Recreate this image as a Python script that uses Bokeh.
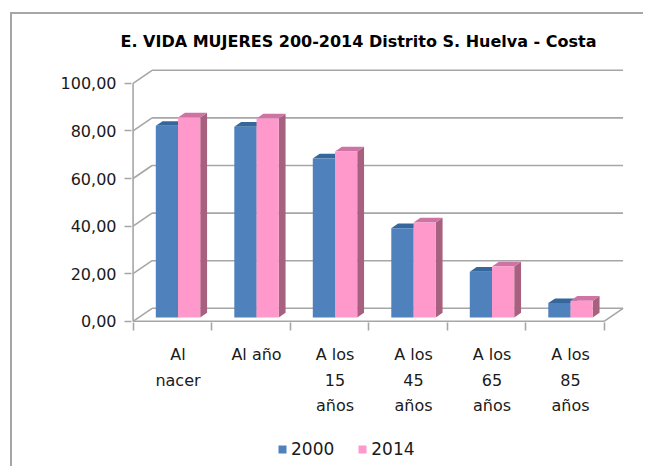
from bokeh.plotting import figure
from bokeh.models import FixedTicker, Legend, LegendItem, ColumnDataSource
from bokeh.embed import file_html
from bokeh.resources import INLINE

# ---------------- data ----------------
categories = ["Al\nnacer", "Al año", "A los\n15\naños", "A los\n45\naños",
              "A los\n65\naños", "A los\n85\naños"]
v2000 = [80.5, 80.1, 66.8, 37.5, 19.2, 6.0]
v2014 = [84.0, 83.6, 69.7, 39.9, 21.4, 7.0]
series_names = ["2000", "2014"]
y_ticks = [0, 20, 40, 60, 80, 100]
y_tick_labels = ["0,00", "20,00", "40,00", "60,00", "80,00", "100,00"]
title_text = "E. VIDA MUJERES  200-2014 Distrito S. Huelva - Costa"

# ---------------- style ----------------
FONT = "DejaVu Sans"
GRID = "#a6a6a6"
front_cols = ["#4f81bd", "#ff99cc"]
top_cols = ["#35669c", "#cf73a5"]
side_cols = ["#3a5f8f", "#a8607f"]
DX, DY = 0.242, 5.46          # depth of the 3D walls (x in category units, y in value units)
BAR_W = 0.283                 # width of one bar in category units
BAR_POS = 0.30                # depth fraction of bar front faces
BAR_D = 0.36                  # bar depth fraction
n = len(categories)

# the frame reaches down to the legend; the category axis is pinned at the floor
p = figure(frame_width=495, frame_height=398, x_range=(-0.02, 6.286), y_range=(-60.17, 107.06),
           output_backend="svg", toolbar_location=None,
           min_border_left=119, min_border_right=17, min_border_top=51, min_border_bottom=2,
           margin=(12, 0, 0, 10),
           styles={"border-top": "2px solid #a6a6a6", "border-left": "2px solid #a6a6a6"})
p.outline_line_color = None
p.xgrid.visible = False
p.ygrid.visible = False
p.background_fill_color = "white"
p.border_fill_color = "white"

# title
p.title.text = title_text
p.title.align = "left"
p.title.text_font = FONT
p.title.text_font_size = "16px"
p.title.text_font_style = "bold"
p.title.text_color = "#000000"
p.title.standoff = 31
p.title.offset = -11

# ---------------- walls ----------------
p.multi_line(xs=[[DX, n + DX] for t in y_ticks], ys=[[t + DY, t + DY] for t in y_ticks],
             line_color=GRID, line_width=1.6)
p.multi_line(xs=[[0, DX] for t in y_ticks], ys=[[t, t + DY] for t in y_ticks],
             line_color=GRID, line_width=1.6)
p.multi_line(xs=[[0, n], [n, n + DX], [0, 0]], ys=[[0, 0], [0, DY], [0, y_ticks[-1]]],
             line_color=GRID, line_width=1.6)

# ---------------- bars ----------------
fronts = []
for s, vals in enumerate([v2000, v2014]):
    lefts = [i + 0.5 - BAR_W + s * BAR_W + BAR_POS * DX for i in range(n)]
    rights = [l + BAR_W for l in lefts]
    base = BAR_POS * DY
    tops = [base + v for v in vals]
    bdx, bdy = BAR_D * DX, BAR_D * DY
    side_xs = [[r, r + bdx, r + bdx, r] for r in rights]
    side_ys = [[base, base + bdy, t + bdy, t] for t in tops]
    top_xs = [[l, r, r + bdx, l + bdx] for l, r in zip(lefts, rights)]
    top_ys = [[t, t, t + bdy, t + bdy] for t in tops]
    p.patches(xs=side_xs, ys=side_ys, fill_color=side_cols[s], line_color=None)
    p.patches(xs=top_xs, ys=top_ys, fill_color=top_cols[s], line_color=None)
    src = ColumnDataSource(dict(left=lefts, right=rights, bottom=[base] * n, top=tops))
    fr = p.quad(left="left", right="right", bottom="bottom", top="top", source=src,
                fill_color=front_cols[s], line_color=None)
    fronts.append(fr)

# ---------------- axes ----------------
yax = p.yaxis[0]
yax.ticker = FixedTicker(ticks=y_ticks, minor_ticks=[])
yax.major_label_overrides = {t: lab for t, lab in zip(y_ticks, y_tick_labels)}
yax.axis_line_color = None
yax.major_tick_out = 7
yax.major_tick_in = 0
yax.major_tick_line_color = GRID
yax.major_tick_line_width = 1.6
yax.major_label_standoff = 8
yax.major_label_text_font = FONT
yax.major_label_text_font_size = "16px"
yax.major_label_text_color = "#1a1a1a"

centers = [i + 0.5 + BAR_POS * DX for i in range(n)]
xax = p.xaxis[0]
xax.fixed_location = -0.5
xax.ticker = FixedTicker(ticks=centers, minor_ticks=list(range(n + 1)))
xax.major_label_overrides = {c: lab for c, lab in zip(centers, categories)}
xax.axis_line_color = None
xax.major_tick_out = 0
xax.major_tick_in = 0
xax.minor_tick_out = 8
xax.minor_tick_in = 0
xax.minor_tick_line_color = GRID
xax.minor_tick_line_width = 1.6
xax.major_label_standoff = 15
xax.major_label_text_font = FONT
xax.major_label_text_font_size = "16px"
xax.major_label_text_line_height = 1.33
xax.major_label_text_color = "#1a1a1a"

# ---------------- legend ----------------
legend = Legend(items=[LegendItem(label=nm, renderers=[fr]) for nm, fr in zip(series_names, fronts)],
                orientation="horizontal", location=(146, 5),
                glyph_width=10, glyph_height=10, label_standoff=4, spacing=23,
                label_text_font=FONT, label_text_font_size="17px", label_text_color="#1a1a1a",
                border_line_color=None, background_fill_alpha=0, padding=0, margin=0)
p.add_layout(legend, "center")

open("out.html", "w").write(file_html(p, INLINE))
